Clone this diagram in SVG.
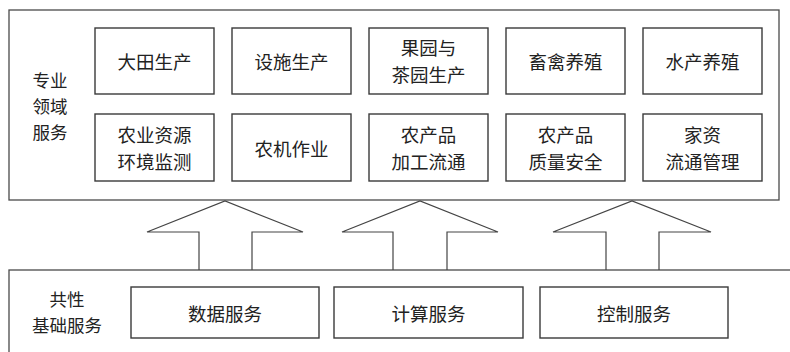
<svg xmlns="http://www.w3.org/2000/svg" width="790" height="352" viewBox="0 0 790 352">
<style>
.box{fill:#fff;stroke:#3a3a3a;stroke-width:1.4}
.frame{fill:#fff;stroke:#4a4a4a;stroke-width:1.3}
.t{font-family:"Noto Sans CJK SC","Noto Sans",sans-serif;font-size:18.5px;fill:#222;text-anchor:middle;dominant-baseline:central}
.lbl{font-size:17.5px}
.arr{fill:none;stroke:#444;stroke-width:1.2}
</style>
<rect width="790" height="352" fill="#fff"/>
<g id="top-layer">
<rect class="frame" x="9" y="10" width="770" height="190"/>
<text class="t lbl" x="50" y="79.5">专业<tspan x="50" dy="25.5">领域</tspan><tspan x="50" dy="25.5">服务</tspan></text>
</g>
<g id="bottom-layer">
<rect class="frame" x="9" y="270" width="790" height="100"/>
<text class="t lbl" x="67" y="298.5">共性<tspan x="67" dy="25.5">基础服务</tspan></text>
</g>
<g id="n1"><rect class="box" x="95" y="28" width="119" height="66"/><text class="t" x="154.5" y="61">大田生产</text></g>
<g id="n2"><rect class="box" x="232" y="28" width="119" height="66"/><text class="t" x="291.5" y="61">设施生产</text></g>
<g id="n3"><rect class="box" x="369" y="28" width="119" height="66"/><text class="t" x="428.5" y="47">果园与<tspan x="428.5" dy="27">茶园生产</tspan></text></g>
<g id="n4"><rect class="box" x="506" y="28" width="119" height="66"/><text class="t" x="565.5" y="61">畜禽养殖</text></g>
<g id="n5"><rect class="box" x="643" y="28" width="119" height="66"/><text class="t" x="702.5" y="61">水产养殖</text></g>
<g id="n6"><rect class="box" x="95" y="114" width="119" height="67"/><text class="t" x="154.5" y="134">农业资源<tspan x="154.5" dy="27">环境监测</tspan></text></g>
<g id="n7"><rect class="box" x="232" y="114" width="119" height="67"/><text class="t" x="291.5" y="147.5">农机作业</text></g>
<g id="n8"><rect class="box" x="369" y="114" width="119" height="67"/><text class="t" x="428.5" y="134">农产品<tspan x="428.5" dy="27">加工流通</tspan></text></g>
<g id="n9"><rect class="box" x="506" y="114" width="119" height="67"/><text class="t" x="565.5" y="134">农产品<tspan x="565.5" dy="27">质量安全</tspan></text></g>
<g id="n10"><rect class="box" x="643" y="114" width="119" height="67"/><text class="t" x="702.5" y="134">家资<tspan x="702.5" dy="27">流通管理</tspan></text></g>
<g id="b1"><rect class="box" x="131" y="287" width="188" height="51"/><text class="t" x="225" y="313">数据服务</text></g>
<g id="b2"><rect class="box" x="334" y="287" width="189" height="51"/><text class="t" x="428.5" y="313">计算服务</text></g>
<g id="b3"><rect class="box" x="540" y="287" width="188" height="51"/><text class="t" x="634" y="313">控制服务</text></g>
<g id="connectors">
<polyline class="arr" points="199,270 199,232 147,232 225,201 303,232 252,232 252,270"/>
<polyline class="arr" points="393,270 393,232 342,232 420,201 498,232 447,232 447,270"/>
<polyline class="arr" points="606,270 606,232 553,232 632,201 711,232 659,232 659,270"/>
</g>
</svg>
